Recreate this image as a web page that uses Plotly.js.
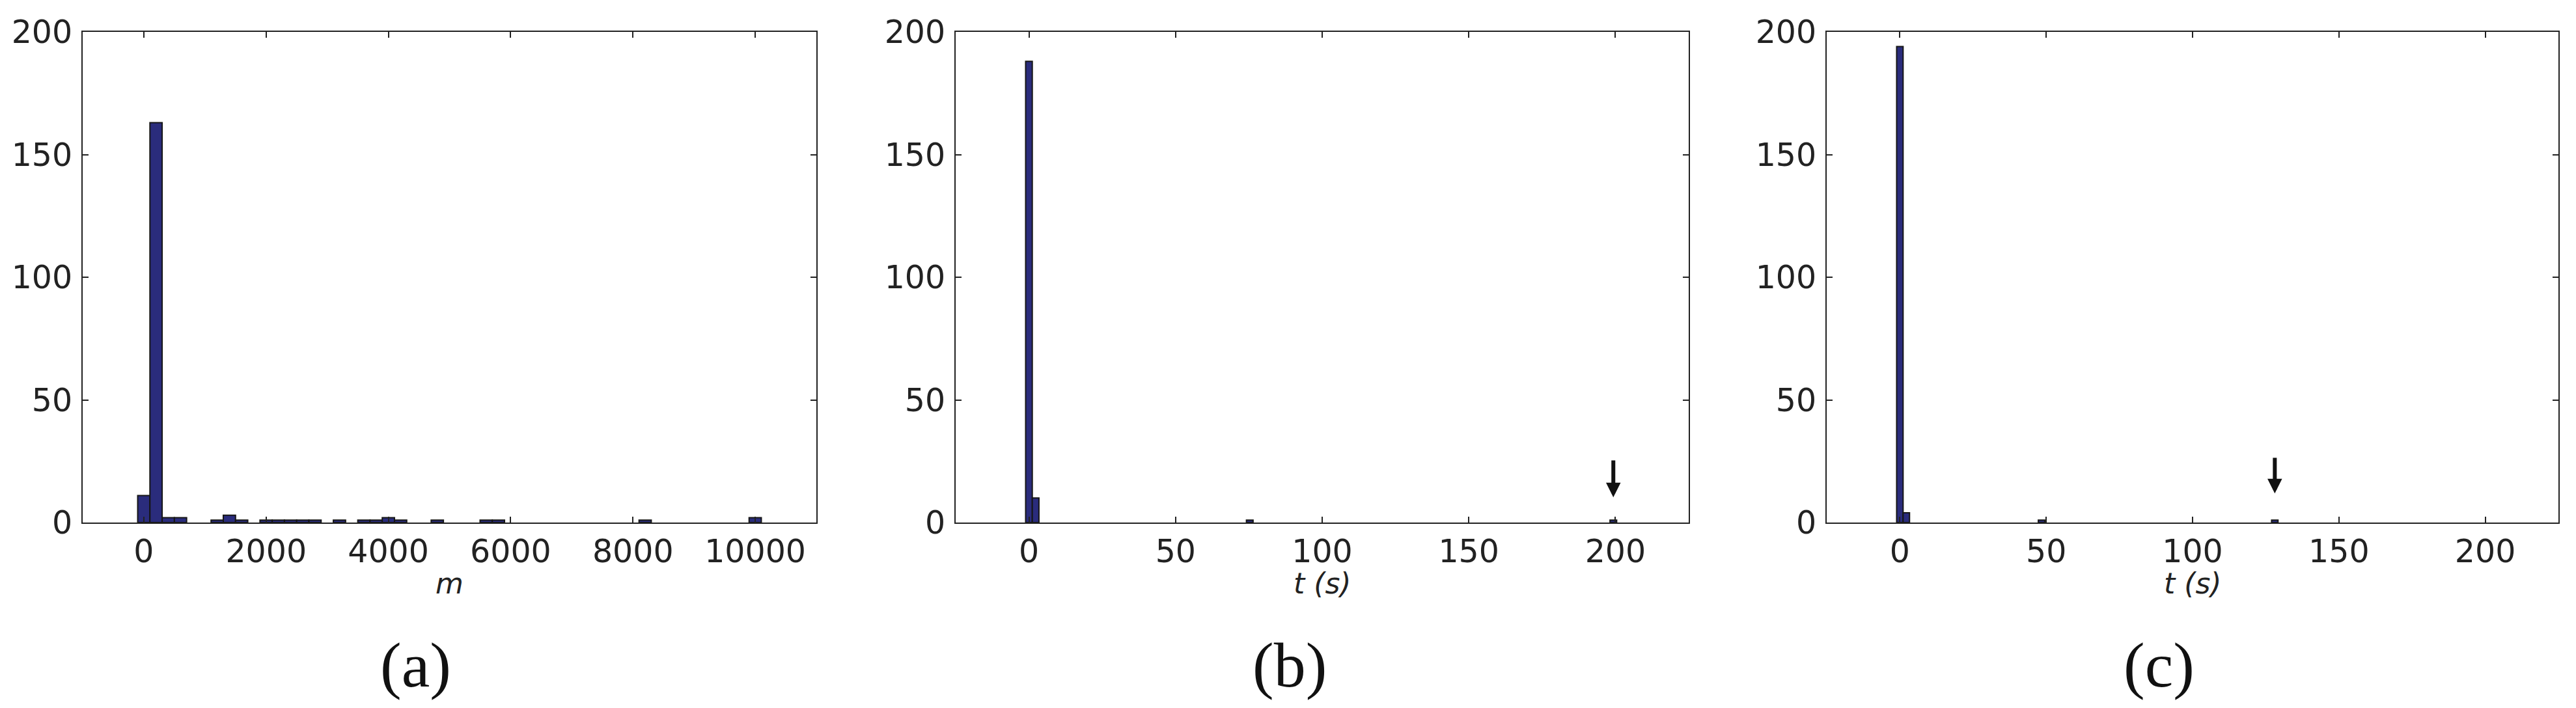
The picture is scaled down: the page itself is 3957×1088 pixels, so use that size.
<!DOCTYPE html>
<html>
<head>
<meta charset="utf-8">
<script src="https://cdn.plot.ly/plotly-3.0.1.min.js"></script>
<style>
  html, body { margin: 0; padding: 0; background: #fff; }
  #chart { width: 3957px; height: 1088px; }
</style>
</head>
<body>
<div id="chart"></div>
<script>
// ---- Data ----
// Panel (a): histogram of m (bin centres, counts)
const mCenters = [0, 200, 400, 600, 1200, 1400, 1600, 2000, 2200, 2400, 2600, 2800, 3200, 3600, 3800, 4000, 4200, 4800, 5600, 5800, 8200, 10000];
const mCounts  = [11, 163, 2, 2, 1, 3, 1, 1, 1, 1, 1, 1, 1, 1, 1, 2, 1, 1, 1, 1, 1, 2];
const mBinWidth = 200;

// Panel (b): histogram of t (s)
const tCentersB = [0, 2.27, 75.3, 199.3];
const tCountsB  = [188, 10, 1, 1];
const tBinWidthB = 2.27;

// Panel (c): histogram of t (s)
const tCentersC = [0, 2.2, 48.4, 128.1];
const tCountsC  = [194, 4, 1, 1];
const tBinWidthC = 2.2;

// Arrows marking a single event (x position, tip y, tail y)
const arrowB = {x: 199.3, tip: 10.3, tail: 25.7};
const arrowC = {x: 128.1, tip: 11.9, tail: 26.8};

// Tick labels
const mTicks = [0, 2000, 4000, 6000, 8000, 10000];
const tTicks = [0, 50, 100, 150, 200];
const yTicks = [0, 50, 100, 150, 200];

const axisTitles = ['m', 't (s)', 't (s)'];
const panelLabels = ['(a)', '(b)', '(c)'];

// ---- Styling ----
const barColor = '#2a2c7c';
const edgeColor = '#161616';
const axisColor = '#222222';
const tickFont = {family: 'DejaVu Sans', size: 49, color: '#222222'};
const titleFont = {family: 'DejaVu Sans', size: 44, color: '#222222', style: 'italic'};

function barTrace(x, y, w, xa, ya) {
  return {
    type: 'bar', x: x, y: y, width: w,
    xaxis: xa, yaxis: ya,
    marker: {color: barColor, line: {color: edgeColor, width: 2}},
    hoverinfo: 'x+y', showlegend: false
  };
}

const data = [
  barTrace(mCenters, mCounts, mBinWidth, 'x', 'y'),
  barTrace(tCentersB, tCountsB, tBinWidthB, 'x2', 'y2'),
  barTrace(tCentersC, tCountsC, tBinWidthC, 'x3', 'y3')
];

const W = 3957, H = 1088;
const yDom = [(H - 803) / H, (H - 49) / H];
const xDoms = [[127 / W, 1254 / W], [1468 / W, 2594 / W], [2806 / W, 3930 / W]];

function xAxis(dom, range, ticks, anchor) {
  return {
    domain: dom, range: range, anchor: anchor,
    tickmode: 'array', tickvals: ticks, ticktext: ticks.map(String),
    ticks: 'inside', ticklen: 9, tickwidth: 2, tickcolor: axisColor,
    showline: true, linecolor: axisColor, linewidth: 2, mirror: 'allticks',
    showgrid: false, zeroline: false, tickfont: tickFont,
    ticklabelstandoff: 0,
    automargin: false, fixedrange: true
  };
}
function yAxis(anchor) {
  return {
    domain: yDom, range: [0, 200], anchor: anchor,
    tickmode: 'array', tickvals: yTicks, ticktext: yTicks.map(String),
    ticks: 'inside', ticklen: 9, tickwidth: 2, tickcolor: axisColor,
    showline: true, linecolor: axisColor, linewidth: 2, mirror: 'allticks',
    showgrid: false, zeroline: false, tickfont: tickFont,
    ticklabelstandoff: 4,
    automargin: false, fixedrange: true
  };
}

function arrowAnn(a, xr, yr) {
  return {
    x: a.x, y: a.tip, ax: a.x, ay: a.tail,
    xref: xr, yref: yr, axref: xr, ayref: yr,
    text: '', showarrow: true, arrowhead: 2, arrowsize: 0.75,
    arrowwidth: 6, arrowcolor: '#111111', standoff: 0
  };
}

const annotations = [];
// axis titles (placed just under the tick labels)
const xRefs = ['x domain', 'x2 domain', 'x3 domain'];
axisTitles.forEach((t, i) => annotations.push({
  text: t, xref: xRefs[i], yref: 'paper', x: 0.5, y: (H - 896) / H,
  xanchor: 'center', yanchor: 'middle', showarrow: false, font: titleFont
}));
// panel labels
const labelX = [638 / W, 1981 / W, 3316 / W];
panelLabels.forEach((t, i) => annotations.push({
  text: t, xref: 'paper', yref: 'paper', x: labelX[i], y: (H - 1022) / H,
  xanchor: 'center', yanchor: 'middle', showarrow: false,
  font: {family: 'Liberation Serif', size: 98, color: '#111111'}
}));
annotations.push(arrowAnn(arrowB, 'x2', 'y2'));
annotations.push(arrowAnn(arrowC, 'x3', 'y3'));

const layout = {
  width: W, height: H,
  margin: {l: 0, r: 0, t: 0, b: 0, pad: 0},
  paper_bgcolor: '#ffffff', plot_bgcolor: '#ffffff',
  showlegend: false, bargap: 0,
  xaxis:  xAxis(xDoms[0], [-1000, 11000], mTicks, 'y'),
  yaxis:  yAxis('x'),
  xaxis2: xAxis(xDoms[1], [-25, 225], tTicks, 'y2'),
  yaxis2: yAxis('x2'),
  xaxis3: xAxis(xDoms[2], [-25, 225], tTicks, 'y3'),
  yaxis3: yAxis('x3'),
  annotations: annotations
};

Plotly.newPlot('chart', data, layout, {displayModeBar: false, staticPlot: true});
</script>
</body>
</html>
